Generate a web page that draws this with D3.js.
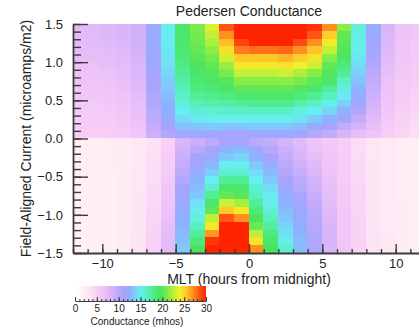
<!DOCTYPE html>
<html><head><meta charset="utf-8">
<script src="https://cdn.jsdelivr.net/npm/d3@7"></script>
<style>
body{margin:0;background:#fff}
svg{display:block}
text{font-family:"Liberation Sans",Arial,Helvetica,sans-serif;fill:#222}
</style>
</head><body><div id="chart"></div>
<script>
// MLT bin centres (hours from midnight), 1-hour bins
const mltCenters = [-11.5,-10.5,-9.5,-8.5,-7.5,-6.5,-5.5,-4.5,-3.5,-2.5,-1.5,-0.5,0.5,1.5,2.5,3.5,4.5,5.5,6.5,7.5,8.5,9.5,10.5,11.5];
// Field-aligned current bin centres (microamps/m2), 0.1 bins, top to bottom
const facCenters = [1.45,1.35,1.25,1.15,1.05,0.95,0.85,0.75,0.65,0.55,0.45,0.35,0.25,0.15,0.05,
  -0.05,-0.15,-0.25,-0.35,-0.45,-0.55,-0.65,-0.75,-0.85,-0.95,-1.05,-1.15,-1.25,-1.35,-1.45];
// Pedersen conductance (mhos), one row per FAC bin, one value per MLT bin
const conductance = [
  [7.5,7.5,7.8,8.0,8.8,11.8,15.0,19.0,21.0,23.5,28.5,30,30,30,30,30,29.5,27.0,21.5,15.5,11.8,8.0,6.5,6.0],
  [7.5,7.5,7.8,8.0,8.8,11.8,15.0,19.0,20.8,22.8,27.0,30,30,30,30,30,28.5,25.2,20.3,15.4,11.6,7.9,6.5,6.0],
  [7.3,7.4,7.6,7.9,8.7,11.7,15.0,18.9,20.6,22.2,25.8,29.0,30,30,30,28.8,27.0,24.2,20.0,15.3,11.4,7.8,6.4,5.9],
  [7.2,7.2,7.4,7.7,8.5,11.6,14.8,18.7,20.3,21.5,24.6,27.5,27.8,27.8,28.0,27.0,25.6,22.8,19.8,15.1,11.2,7.6,6.3,5.8],
  [7.0,7.0,7.2,7.5,8.3,11.5,14.6,18.4,20.0,20.8,23.2,25.5,25.5,25.5,26.0,25.2,24.5,21.3,19.2,14.6,10.8,7.4,6.2,5.7],
  [6.8,6.8,7.0,7.3,8.1,11.4,14.4,18.0,19.6,20.3,21.8,24.3,24.3,24.3,24.5,24.0,23.0,20.3,18.5,14.2,10.4,7.2,6.0,5.6],
  [6.6,6.6,6.8,7.1,7.9,11.2,14.0,17.6,19.2,19.8,21.0,22.8,22.8,22.8,23.0,22.3,21.3,19.8,17.6,13.8,10.0,7.0,5.9,5.4],
  [6.4,6.4,6.6,6.9,7.7,11.0,13.7,17.2,18.7,19.2,20.0,21.3,21.3,21.3,21.5,21.0,20.2,19.0,16.3,13.2,9.6,6.8,5.8,5.2],
  [6.2,6.2,6.4,6.7,7.5,10.8,13.4,16.7,18.2,18.6,19.3,20.3,20.3,20.3,20.3,20.0,19.0,17.6,15.5,12.6,9.2,6.6,5.6,5.0],
  [6.0,6.0,6.2,6.5,7.3,10.6,13.0,16.2,17.5,17.8,18.2,18.8,19.0,19.0,19.0,18.3,17.6,16.5,14.8,12.0,8.8,6.4,5.4,4.8],
  [5.8,5.8,6.0,6.3,7.1,10.4,12.6,15.6,16.8,17.0,17.2,17.5,17.7,17.7,17.7,17.0,16.2,15.2,13.7,11.4,8.4,6.2,5.2,4.6],
  [5.6,5.6,5.8,6.1,6.9,10.1,12.2,15.0,15.8,16.0,16.2,16.2,16.3,16.3,16.3,15.6,15.0,14.0,12.6,10.5,8.0,6.0,5.0,4.4],
  [5.4,5.4,5.6,5.9,6.7,9.8,11.7,14.2,14.8,15.0,15.0,15.0,15.0,15.0,15.0,14.5,13.6,12.6,11.2,9.5,7.5,5.8,4.8,4.2],
  [5.2,5.2,5.4,5.7,6.5,9.5,11.2,13.2,13.3,13.5,13.3,13.3,13.5,13.5,13.5,13.0,12.0,11.0,9.6,8.4,7.0,5.5,4.6,4.0],
  [5.0,5.0,5.2,5.5,6.2,9.0,10.5,11.5,11.5,11.5,11.3,11.3,11.5,11.5,11.5,11.2,10.2,9.5,8.0,7.0,6.3,5.2,4.4,3.8],
  [2.2,2.2,2.3,2.5,2.8,3.5,4.8,8.0,9.0,10.0,11.0,11.0,10.0,9.5,8.5,7.5,6.5,5.8,5.0,4.0,3.0,2.6,2.3,2.2],
  [2.2,2.2,2.3,2.5,2.8,3.6,5.0,8.5,10.0,11.0,12.5,12.8,11.5,10.3,9.0,7.8,6.8,6.0,5.1,4.0,3.0,2.6,2.3,2.2],
  [2.2,2.2,2.3,2.5,2.9,3.7,5.2,9.0,11.0,11.8,13.5,14.0,12.5,11.0,9.5,8.2,7.2,6.2,5.2,4.1,3.0,2.6,2.3,2.2],
  [2.1,2.2,2.3,2.5,2.9,3.8,5.4,9.5,11.5,12.8,15.0,15.0,13.5,12.0,10.0,8.8,7.6,6.4,5.3,4.2,3.1,2.6,2.3,2.2],
  [2.1,2.1,2.2,2.5,3.0,3.9,5.6,10.0,12.0,13.8,16.0,16.0,14.3,12.8,10.5,9.3,8.0,6.6,5.4,4.2,3.1,2.6,2.3,2.2],
  [2.1,2.1,2.2,2.5,3.0,4.0,5.8,10.5,12.5,15.0,17.5,17.5,15.0,13.5,11.0,9.8,8.4,6.8,5.5,4.3,3.2,2.7,2.3,2.2],
  [2.1,2.1,2.2,2.4,3.0,4.1,6.0,11.0,13.0,16.0,19.0,19.0,15.8,14.2,11.5,10.3,8.8,7.0,5.6,4.4,3.2,2.7,2.3,2.2],
  [2.0,2.1,2.2,2.4,3.1,4.2,6.2,11.3,13.5,17.5,20.3,20.0,16.5,14.8,12.0,10.8,9.2,7.2,5.7,4.4,3.2,2.7,2.3,2.2],
  [2.0,2.0,2.2,2.4,3.1,4.3,6.4,11.6,14.5,19.0,23.0,22.0,17.5,15.2,12.5,11.2,9.5,7.4,5.8,4.5,3.3,2.7,2.3,2.2],
  [2.0,2.0,2.2,2.4,3.2,4.4,6.6,12.0,15.0,20.3,25.5,24.3,18.5,15.8,13.0,11.6,9.8,7.6,5.9,4.5,3.3,2.7,2.4,2.2],
  [2.0,2.0,2.1,2.4,3.2,4.5,6.8,12.3,15.5,22.5,28.5,27.0,19.5,16.5,13.5,12.0,10.0,7.8,6.0,4.6,3.3,2.7,2.4,2.2],
  [2.0,2.0,2.1,2.4,3.2,4.6,7.0,12.6,16.5,24.3,30,30,20.5,17.3,14.0,12.3,10.2,8.0,6.0,4.6,3.4,2.7,2.4,2.2],
  [2.0,2.0,2.1,2.4,3.3,4.7,7.2,13.0,17.5,26.8,30,30,22.5,18.2,14.5,12.6,10.4,8.0,6.1,4.7,3.4,2.8,2.4,2.2],
  [2.0,2.0,2.1,2.4,3.3,4.8,7.4,13.2,18.5,29.5,30,30,24.5,19.0,15.2,12.8,10.5,8.2,6.1,4.7,3.4,2.8,2.4,2.2],
  [2.0,2.0,2.1,2.4,3.3,4.9,7.5,13.5,19.5,30,30,30,27.0,19.5,16.0,13.0,10.6,8.2,6.2,4.8,3.4,2.8,2.4,2.2]
];
const xTickValues = [-10,-5,0,5,10];
const yTickValues = [-1.5,-1.0,-0.5,0.0,0.5,1.0,1.5];
const cbarTickValues = [0,5,10,15,20,25,30];
const titleText = "Pedersen Conductance";
const xTitle = "MLT (hours from midnight)";
const yTitle = "Field-Aligned Current (microamps/m2)";
const cbarTitle = "Conductance (mhos)";

// colour table
const cStops = [0,2,3.5,5,6.5,8,9.5,11,12.3,13.5,15,16.5,18,19.5,21,22.5,24,25.5,27,28.5,30];
const cColors = ["#ffffff","#fff0f3","#fce2f5","#f8cef7","#eec4f8","#dab6f9","#c4acfb","#a8a4fe","#90aeff","#80c8fc","#68eef0","#58f0c0","#4eec84","#4ae462","#78ec4a","#b8f03a","#f0f02a","#ffc828","#ff9020","#ff5414","#ff2400"];
const color = d3.scaleLinear().domain(cStops).range(cColors).interpolate(d3.interpolateRgb).clamp(true);

const W = 419, H = 332;
const svg = d3.select("#chart").append("svg").attr("width", W).attr("height", H);

const x = d3.scaleLinear().domain([-12, 12]).range([73, 425]);
const y = d3.scaleLinear().domain([-1.5, 1.5]).range([253, 24]);

const cells = [];
conductance.forEach((row, i) => row.forEach((v, j) => cells.push({ mlt: mltCenters[j], fac: facCenters[i], v })));

svg.append("g").selectAll("rect").data(cells).join("rect")
  .attr("x", d => Math.floor(x(d.mlt - 0.5)))
  .attr("width", d => Math.ceil(x(d.mlt + 0.5)) - Math.floor(x(d.mlt - 0.5)))
  .attr("y", d => Math.floor(y(d.fac + 0.05)))
  .attr("height", d => Math.ceil(y(d.fac - 0.05)) - Math.floor(y(d.fac + 0.05)))
  .attr("fill", d => color(d.v));

const axisColor = "#3c3c3c";
function styleAxis(g) {
  g.selectAll("path").attr("stroke", axisColor).attr("stroke-width", 1.8);
  g.selectAll("line").attr("stroke", axisColor).attr("stroke-width", 1.4);
  g.selectAll("text").attr("fill", "#222").style("font-family", '"Liberation Sans",Arial,sans-serif');
}

// y axis: minor then major
const yMinor = svg.append("g").attr("transform", "translate(73,0)")
  .call(d3.axisLeft(y).tickValues(d3.range(-15, 16).map(k => k / 10)).tickSize(-8).tickSizeOuter(0).tickFormat(""));
styleAxis(yMinor); yMinor.select("path").remove();
const yMajor = svg.append("g").attr("transform", "translate(73,0)")
  .call(d3.axisLeft(y).tickValues(yTickValues).tickSize(-15).tickSizeOuter(0).tickPadding(10).tickFormat(d3.format(".1f")));
styleAxis(yMajor);
yMajor.selectAll("text").style("font-size", "13px");

// x axis
const xMinor = svg.append("g").attr("transform", "translate(0,253)")
  .call(d3.axisBottom(x).tickValues(d3.range(-12, 13)).tickSize(-4).tickSizeOuter(0).tickFormat(""));
styleAxis(xMinor); xMinor.select("path").remove();
const xMajor = svg.append("g").attr("transform", "translate(0,253)")
  .call(d3.axisBottom(x).tickValues(xTickValues).tickSize(-9).tickSizeOuter(0).tickPadding(6).tickFormat(d3.format("d")));
styleAxis(xMajor);
xMajor.selectAll("text").style("font-size", "13px");

// titles
svg.append("text").attr("x", x(0)).attr("y", 16).attr("text-anchor", "middle")
  .style("font-size", "14px").text(titleText);
svg.append("text").attr("x", x(0)).attr("y", 284).attr("text-anchor", "middle")
  .style("font-size", "14px").text(xTitle);
svg.append("text").attr("transform", `translate(31,${(y(0))}) rotate(-90)`).attr("text-anchor", "middle")
  .style("font-size", "14px").text(yTitle);

// colour bar
const cbTop = 286, cbH = 15;
const cb = d3.scaleLinear().domain([0, 30]).range([75, 206]);
const grad = svg.append("defs").append("linearGradient").attr("id", "cbar")
  .attr("x1", "0%").attr("x2", "100%").attr("y1", "0%").attr("y2", "0%");
grad.selectAll("stop").data(cStops).join("stop")
  .attr("offset", d => (d / 30 * 100) + "%")
  .attr("stop-color", d => color(d));
svg.append("rect").attr("x", cb(0)).attr("y", cbTop).attr("width", cb(30) - cb(0)).attr("height", cbH)
  .attr("fill", "url(#cbar)");
const cMinor = svg.append("g").attr("transform", `translate(0,${cbTop + cbH})`)
  .call(d3.axisBottom(cb).tickValues(d3.range(0, 31)).tickSize(-2).tickSizeOuter(0).tickFormat(""));
styleAxis(cMinor);
cMinor.selectAll("line").attr("stroke-width", 1);
cMinor.select("path").attr("stroke-width", 1);
const cMajor = svg.append("g").attr("transform", `translate(0,${cbTop + cbH})`)
  .call(d3.axisBottom(cb).tickValues(cbarTickValues).tickSize(-4).tickSizeOuter(0).tickPadding(4).tickFormat(d3.format("d")));
styleAxis(cMajor);
cMajor.select("path").remove();
cMajor.selectAll("line").attr("stroke-width", 1);
cMajor.selectAll("text").style("font-size", "10px");
svg.append("text").attr("x", 137).attr("y", 325).attr("text-anchor", "middle")
  .style("font-size", "10px").text(cbarTitle);
</script>
</body></html>
